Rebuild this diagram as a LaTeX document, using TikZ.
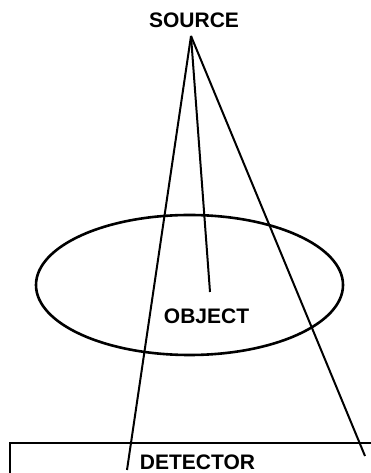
\documentclass[tikz,border=0pt]{standalone}
\usepackage{fontspec}
\setmainfont{Liberation Sans}
\usetikzlibrary{shapes.geometric}
\begin{document}
\begin{tikzpicture}[x=1pt,y=1pt,
  lbl/.style={font=\fontsize{21}{24}\selectfont\bfseries, inner sep=0pt, anchor=base},
  ray/.style={line width=2pt},
  objshape/.style={draw, ellipse, line width=2.6pt, minimum width=307pt, minimum height=140pt, inner sep=0pt},
  det/.style={line width=2.2pt}]
\useasboundingbox (0,0) rectangle (370,473);
\fill[white] (0,0) rectangle (370,473);
\node[lbl] (source) at (194,445) {SOURCE};
\coordinate (apex) at (191,437);
\node[objshape] (object) at (189.5,188) {};
\node[lbl] (objlabel) at (206.5,149) {OBJECT};
\node[lbl] (detlabel) at (197.5,3) {DETECTOR};
\coordinate (leftend) at (127,3);
\coordinate (midend) at (210,181);
\coordinate (rightend) at (365,17);
\coordinate (dtl) at (10,30);
\coordinate (dtr) at (371,30);
\coordinate (dbl) at (10,-1);
\draw[det] (dbl) -- (dtl) -- (dtr);
\draw[ray] (apex) -- (leftend);
\draw[ray] (apex) -- (midend);
\draw[ray] (apex) -- (rightend);
\end{tikzpicture}
\end{document}
